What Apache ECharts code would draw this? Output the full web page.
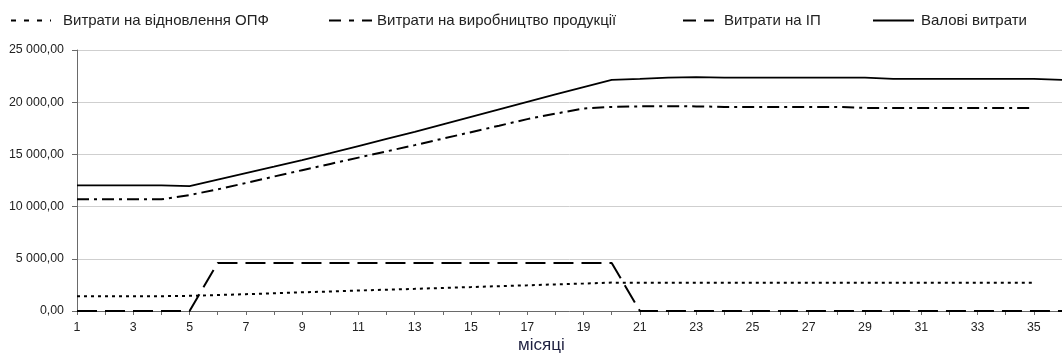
<!DOCTYPE html>
<html>
<head>
<meta charset="utf-8">
<script src="https://cdn.jsdelivr.net/npm/echarts@6/dist/echarts.min.js"></script>
<style>
html,body{margin:0;padding:0;background:#fff;}
#chart{width:1062px;height:356px;}
</style>
</head>
<body>
<div id="chart"></div>
<script>
var months = ['1','2','3','4','5','6','7','8','9','10','11','12','13','14','15','16','17','18','19','20','21','22','23','24','25','26','27','28','29','30','31','32','33','34','35','36'];
var seriesNames = ['Витрати на відновлення ОПФ','Витрати на виробництво продукції','Витрати на ІП','Валові витрати'];
var opf = [1420,1420,1420,1420,1450,1530,1610,1700,1790,1870,1960,2040,2120,2210,2290,2380,2460,2550,2630,2720,2700,2700,2700,2700,2700,2700,2700,2700,2700,2700,2700,2700,2700,2700,2700];
var production = [10700,10700,10700,10700,11110,11650,12260,12880,13490,14090,14690,15290,15890,16510,17130,17750,18380,18900,19400,19550,19600,19620,19600,19550,19550,19550,19550,19550,19450,19450,19450,19450,19450,19450,19450];
var ip = [0,0,0,0,0,4600,4600,4600,4600,4600,4600,4600,4600,4600,4600,4600,4600,4600,4600,4600,0,0,0,0,0,0,0,0,0,0,0,0,0,0,0,0];
var gross = [12030,12030,12030,12030,11960,12580,13200,13820,14450,15120,15800,16480,17160,17880,18600,19320,20040,20740,21440,22130,22230,22350,22400,22350,22350,22350,22350,22350,22350,22230,22230,22230,22230,22230,22230,22130];
var yTicks = [0,5000,10000,15000,20000,25000];

function fmt(v){
  var s = String(Math.round(v));
  s = s.replace(/\B(?=(\d{3})+(?!\d))/g,' ');
  return s + ',00';
}

var chart = echarts.init(document.getElementById('chart'), null, {renderer:'canvas'});
var styles = [
  {type:[3,4], width:2},
  {type:[12,5,3,5], width:2},
  {type:[20,8], width:2},
  {type:'solid', width:1.8}
];
var legendDash = [[5,8],[12,8,5,8],[13,8],'solid'];
var datas = [opf, production, ip, gross];
var legendLefts = [10, 328, 682, 872];
var legendWidths = [40, 43, 31, 41];
var legendPads = [7, 0, 5, 2];

var legends = seriesNames.map(function(n,i){
  return {
    show:true, left:legendLefts[i], top:13, padding:0, orient:'horizontal',
    data:[n], itemWidth:legendWidths[i], itemHeight:14, selectedMode:false,
    itemStyle:{opacity:0},
    lineStyle:{type:legendDash[i], width:2, color:'#000'},
    textStyle:{fontFamily:'Liberation Sans, Arial, sans-serif', fontSize:15, color:'#222', padding:[0,0,0,legendPads[i]]}
  };
});

chart.setOption({
  animation:false,
  backgroundColor:'#fff',
  title:{text:'місяці', left:518, top:337, padding:0, textStyle:{fontFamily:'Liberation Sans, Arial, sans-serif', fontSize:17, fontWeight:'normal', color:'#1e2040'}},
  legend:legends,
  grid:{left:77, right:-7, top:50, bottom:45, containLabel:false},
  xAxis:{
    type:'category', data:months, boundaryGap:false,
    axisLine:{lineStyle:{color:'#6a6a6a', width:1}},
    axisTick:{show:true, interval:0, length:4, lineStyle:{color:'#6a6a6a'}},
    axisLabel:{interval:1, margin:11, fontFamily:'Liberation Sans, Arial, sans-serif', fontSize:12.4, color:'#222'},
    splitLine:{show:false}
  },
  yAxis:{
    type:'value', min:yTicks[0], max:yTicks[yTicks.length-1], interval:5000,
    axisLine:{show:true, lineStyle:{color:'#6a6a6a', width:1}},
    axisTick:{show:true, length:5, lineStyle:{color:'#6a6a6a'}},
    axisLabel:{margin:13, formatter:fmt, fontFamily:'Liberation Sans, Arial, sans-serif', fontSize:12.4, color:'#222'},
    splitLine:{show:true, lineStyle:{color:'#cfcfcf', width:1}}
  },
  series: seriesNames.map(function(n,i){
    return {
      name:n, type:'line', data:datas[i], symbol:'none', showSymbol:false,
      lineStyle:{color:'#000', width:styles[i].width, type:styles[i].type},
      itemStyle:{color:'#000'}, z: 3+i, clip:false
    };
  })
});
</script>
</body>
</html>
